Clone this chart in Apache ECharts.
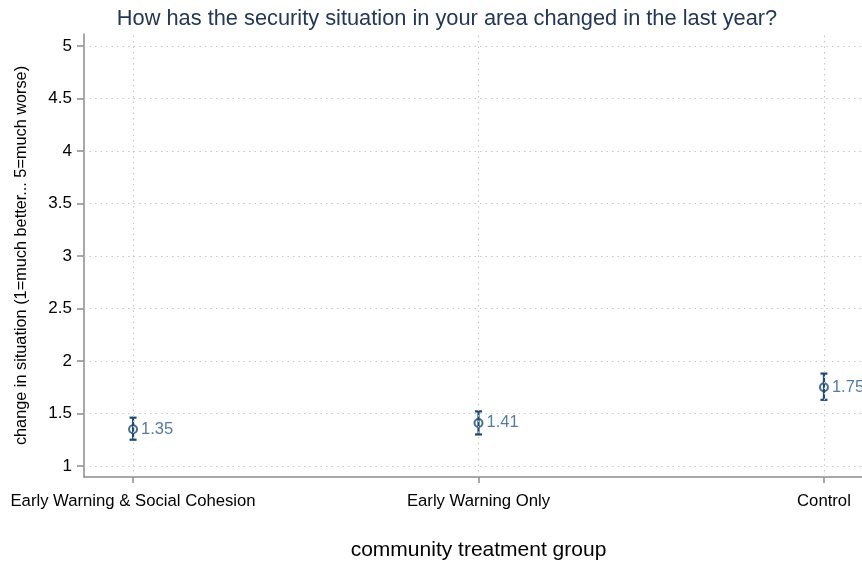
<!DOCTYPE html>
<html>
<head>
<meta charset="utf-8">
<script src="https://cdn.jsdelivr.net/npm/echarts@6/dist/echarts.min.js"></script>
<style>
  html, body { margin: 0; padding: 0; background: #fff; }
  #chart { width: 862px; height: 561px; }
</style>
</head>
<body>
<div id="chart"></div>
<script>
// Treatment groups and their mean responses with 95% intervals
const groups = ['Early Warning & Social Cohesion', 'Early Warning Only', 'Control'];
const means = [1.35, 1.41, 1.75];
const lower = [1.25, 1.30, 1.63];
const upper = [1.46, 1.52, 1.88];
const yTicks = [1, 1.5, 2, 2.5, 3, 3.5, 4, 4.5, 5];
const xTicks = [0, 1, 2];

const navy = '#1c4a75';
const font = 'Liberation Sans, Arial, sans-serif';

const chart = echarts.init(document.getElementById('chart'));

const gridLineStyle = { color: '#c8c8c8', type: [1.5, 4], width: 1.2 };

chart.setOption({
  animation: false,
  title: {
    text: 'How has the security situation in your area changed in the last year?',
    left: 442, top: 3, textAlign: 'center',
    textStyle: { color: '#233759', fontSize: 21.8, fontWeight: 'normal', fontFamily: font }
  },
  grid: {
    left: 84, top: 34, width: 789, bottom: 84,
    containLabel: false, outerBoundsMode: 'none'
  },
  xAxis: {
    type: 'value', min: -0.142, max: 2.142,
    name: 'community treatment group', nameLocation: 'middle', nameGap: 63,
    nameTextStyle: { color: '#000', fontSize: 21, fontFamily: font },
    axisLine: { show: true, onZero: false, lineStyle: { color: '#8c8c8c', width: 1.5 } },
    axisTick: { show: true, customValues: xTicks, length: 6, lineStyle: { color: '#8c8c8c', width: 1.5 } },
    axisLabel: {
      customValues: xTicks, margin: 16, color: '#000', fontSize: 16.7, fontFamily: font,
      formatter: v => groups[Math.round(v)]
    },
    splitLine: { show: false }
  },
  yAxis: {
    type: 'value', min: 0.895, max: 5.114,
    name: 'change in situation (1=much better... 5=much worse)', nameLocation: 'middle', nameGap: 54,
    nameTextStyle: { color: '#000', fontSize: 16.3, fontFamily: font },
    axisLine: { show: true, onZero: false, lineStyle: { color: '#8c8c8c', width: 1.5 } },
    axisTick: { show: true, customValues: yTicks, length: 7, lineStyle: { color: '#8c8c8c', width: 1.5 } },
    axisLabel: { customValues: yTicks, margin: 12, color: '#000', fontSize: 17, fontFamily: font },
    splitLine: { show: false }
  },
  series: [
    {
      // dotted reference grid at every tick
      type: 'line', data: [], silent: true,
      markLine: {
        symbol: 'none', silent: true, label: { show: false },
        lineStyle: gridLineStyle,
        data: yTicks.map(v => ({ yAxis: v })).concat(xTicks.map(v => ({ xAxis: v })))
      }
    },
    {
      type: 'scatter',
      data: xTicks.map((x, i) => [x, means[i]]),
      symbol: 'circle', symbolSize: 8,
      itemStyle: { color: 'rgba(0,0,0,0)', borderColor: navy, borderWidth: 2 },
      label: {
        show: true, position: 'right', distance: 3,
        color: '#295a8c', fontSize: 16.5, fontFamily: font,
        formatter: p => p.value[1].toFixed(2)
      },
      z: 3
    },
    {
      // capped interval bars, drawn through the hollow markers
      type: 'custom',
      data: xTicks.map((x, i) => [x, lower[i], upper[i]]),
      renderItem: (params, api) => {
        const lo = api.coord([api.value(0), api.value(1)]);
        const hi = api.coord([api.value(0), api.value(2)]);
        const cap = 3.5;
        const style = { stroke: navy, lineWidth: 2.2 };
        return {
          type: 'group',
          children: [
            { type: 'line', shape: { x1: lo[0], y1: lo[1], x2: hi[0], y2: hi[1] }, style },
            { type: 'line', shape: { x1: lo[0] - cap, y1: lo[1], x2: lo[0] + cap, y2: lo[1] }, style },
            { type: 'line', shape: { x1: hi[0] - cap, y1: hi[1], x2: hi[0] + cap, y2: hi[1] }, style }
          ]
        };
      },
      z: 4
    }
  ]
});
</script>
</body>
</html>
